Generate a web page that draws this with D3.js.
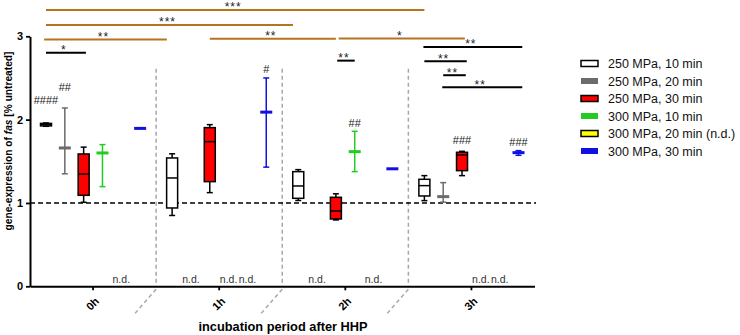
<!DOCTYPE html>
<html>
<head>
<meta charset="utf-8">
<script src="https://d3js.org/d3.v7.min.js"></script>
<style>
    body { margin: 0; background: #fff; }
    text { font-family: "Liberation Sans", Arial, sans-serif; }
</style>
</head>
<body>
<script>
    // groups on the x axis and the six treatments
    const groups = ["0h", "1h", "2h", "3h"];
    const seriesNames = ["250 MPa, 10 min", "250 MPa, 20 min", "250 MPa, 30 min",
        "300 MPa, 10 min", "300 MPa, 20 min (n.d.)", "300 MPa, 30 min"];
    const seriesColors = ["#ffffff", "#6b6b6b", "#ff0000", "#22cc22", "#ffff00", "#1010e0"];
    const seriesBorder = [true, false, true, false, true, false];
    const yTicks = [0, 1, 2, 3];

    // box series: [min, q1, median, q3, max], null = n.d.
    const s250_10 = [[1.92, 1.925, 1.94, 1.955, 1.96], [0.85, 0.94, 1.30, 1.54, 1.59],
        [1.03, 1.056, 1.204, 1.376, 1.40], [1.028, 1.084, 1.208, 1.284, 1.328]];
    const s250_30 = [[1.008, 1.092, 1.348, 1.588, 1.67], [1.124, 1.256, 1.736, 1.904, 1.94],
        [0.796, 0.808, 0.904, 1.068, 1.11], [1.328, 1.388, 1.576, 1.608, 1.62]];
    // median with range series: [min, median, max]
    const s250_20 = [[1.35, 1.66, 2.14], null, null, [1.01, 1.076, 1.244]];
    const s300_10 = [[1.196, 1.60, 1.70], null, [1.376, 1.616, 1.86], null];
    const s300_20 = [null, null, null, null];
    const s300_30 = [[1.895, 1.895, 1.895], [1.43, 2.09, 2.50], [1.41, 1.41, 1.41], [1.572, 1.604, 1.628]];
    const seriesData = [s250_10, s250_20, s250_30, s300_10, s300_20, s300_30];
    const seriesKind = ["box", "range", "box", "range", "range", "range"];

    // significance brackets: [group1, slot1, group2, slot2, y level, label]
    const orangeBrackets = [
        [0, 0, 3, 0, 3.317, "***"],
        [0, 0, 2, -0.28, 3.137, "***"],
        [0, -0.1, 1, -0.28, 2.963, "**"],
        [1, 2, 2, 2, 2.972, "**"],
        [2, 2.15, 3, 2.15, 2.975, "*"]
    ];
    const blackBrackets = [
        [0, 0, 0, 2.12, 2.804, "*"],
        [2, 2.07, 2, 3, 2.708, "**"],
        [3, -0.05, 3, 5.2, 2.873, "**"],
        [3, 0, 3, 2.25, 2.70, "**"],
        [3, 1, 3, 2.2, 2.533, "**"],
        [3, 0.95, 3, 5.2, 2.389, "**"]
    ];
    // hash labels: [group, slot, y level, text]
    const hashLabels = [
        [0, 0, 2.19, "####"],
        [0, 1, 2.345, "##"],
        [1, 5, 2.56, "#"],
        [2, 3, 1.906, "##"],
        [3, 2, 1.708, "###"],
        [3, 5, 1.684, "###"]
    ];

    const W = 740, H = 335;
    const svg = d3.select("body").append("svg").attr("width", W).attr("height", H);

    const x = d3.scaleBand().domain(groups).range([30, 534.5]).padding(0);
    const xs = d3.scalePoint().domain(d3.range(6)).range([0, x.bandwidth()]).padding(0.85);
    const y = d3.scaleLinear().domain([0, 3]).range([286.3, 36.3]);

    const slotX = (g, k) => x(groups[g]) + xs(0) + k * xs.step();

    // group separators and axis break marks
    groups.slice(1).forEach(g => {
        const sx = x(g);
        svg.append("line").attr("x1", sx).attr("x2", sx)
            .attr("y1", y(2.61)).attr("y2", y(0))
            .attr("stroke", "#a8a8a8").attr("stroke-width", 1.5).attr("stroke-dasharray", "4,3");
        svg.append("line").attr("x1", sx).attr("x2", sx - 21)
            .attr("y1", y(0) + 3).attr("y2", y(0) + 27)
            .attr("stroke", "#a8a8a8").attr("stroke-width", 1.5).attr("stroke-dasharray", "4,3");
    });

    // reference line at 1
    svg.append("line").attr("x1", 30).attr("x2", 536)
        .attr("y1", y(1)).attr("y2", y(1))
        .attr("stroke", "#000").attr("stroke-width", 1.6).attr("stroke-dasharray", "5,3");

    // axes
    const yAxis = svg.append("g").attr("transform", "translate(30,0)")
        .call(d3.axisLeft(y).tickValues(yTicks).tickFormat(d3.format("d")).tickSize(4).tickSizeOuter(0));
    yAxis.selectAll("text").attr("font-size", 11).attr("font-weight", "bold").attr("fill", "#000")
        .attr("font-family", "Liberation Sans, Arial, sans-serif");
    const xAxis = svg.append("g").attr("transform", "translate(0," + y(0) + ")")
        .call(d3.axisBottom(x).tickSize(4).tickSizeOuter(0));
    xAxis.selectAll("text").attr("font-size", 11).attr("font-weight", "bold").attr("fill", "#000")
        .attr("font-family", "Liberation Sans, Arial, sans-serif")
        .attr("x", 0).attr("y", 0).attr("dy", "0.35em")
        .attr("text-anchor", "end")
        .attr("transform", "translate(4,13) rotate(-45)");
    [yAxis, xAxis].forEach(a => {
        a.select(".domain").attr("stroke-width", 2);
        a.selectAll(".tick line").attr("stroke-width", 1.8);
    });

    // boxes and ranges
    seriesData.forEach((arr, k) => {
        arr.forEach((v, g) => {
            const cx = slotX(g, k);
            if (v === null) {
                svg.append("text").attr("x", cx).attr("y", y(0) - 3)
                    .attr("text-anchor", "middle").attr("font-size", 10.5).attr("fill", "#333")
                    .text("n.d.");
                return;
            }
            const col = seriesColors[k];
            if (seriesKind[k] === "box") {
                const [mn, q1, md, q3, mx] = v;
                const g0 = svg.append("g").attr("stroke", "#000").attr("stroke-width", 1.5);
                g0.append("line").attr("x1", cx).attr("x2", cx).attr("y1", y(mx)).attr("y2", y(mn));
                g0.append("line").attr("x1", cx - 3).attr("x2", cx + 3).attr("y1", y(mx)).attr("y2", y(mx));
                g0.append("line").attr("x1", cx - 3).attr("x2", cx + 3).attr("y1", y(mn)).attr("y2", y(mn));
                g0.append("rect").attr("x", cx - 5.5).attr("width", 11)
                    .attr("y", y(q3)).attr("height", Math.max(0.5, y(q1) - y(q3)))
                    .attr("fill", col);
                g0.append("line").attr("x1", cx - 5.5).attr("x2", cx + 5.5).attr("y1", y(md)).attr("y2", y(md));
            } else {
                const [mn, md, mx] = v;
                const g0 = svg.append("g").attr("stroke", col);
                if (mx > mn) {
                    g0.append("line").attr("x1", cx).attr("x2", cx).attr("y1", y(mx)).attr("y2", y(mn)).attr("stroke-width", 1.5);
                    g0.append("line").attr("x1", cx - 3).attr("x2", cx + 3).attr("y1", y(mx)).attr("y2", y(mx)).attr("stroke-width", 1.5);
                    g0.append("line").attr("x1", cx - 3).attr("x2", cx + 3).attr("y1", y(mn)).attr("y2", y(mn)).attr("stroke-width", 1.5);
                }
                g0.append("line").attr("x1", cx - 6).attr("x2", cx + 6).attr("y1", y(md)).attr("y2", y(md)).attr("stroke-width", 3);
            }
        });
    });

    // brackets
    function drawBrackets(list, color) {
        list.forEach(([g1, k1, g2, k2, lv, lab]) => {
            const x1 = slotX(g1, k1), x2 = slotX(g2, k2);
            svg.append("line").attr("x1", x1).attr("x2", x2).attr("y1", y(lv)).attr("y2", y(lv))
                .attr("stroke", color).attr("stroke-width", 2);
            svg.append("text").attr("x", (x1 + x2) / 2 - 2).attr("y", y(lv) + 1.5)
                .attr("text-anchor", "middle").attr("font-size", 12).attr("letter-spacing", 1)
                .attr("fill", "#222").text(lab);
        });
    }
    drawBrackets(orangeBrackets, "#b8731e");
    drawBrackets(blackBrackets, "#000");

    hashLabels.forEach(([g, k, lv, t]) => {
        svg.append("text").attr("x", slotX(g, k)).attr("y", y(lv))
            .attr("text-anchor", "middle").attr("font-size", 11).attr("fill", "#222").text(t);
    });

    // axis titles
    const yt = svg.append("text").attr("transform", "translate(12,141) rotate(-90)")
        .attr("text-anchor", "middle").attr("font-size", 10.2).attr("font-weight", "bold");
    yt.append("tspan").text("gene-expression of ");
    yt.append("tspan").attr("font-style", "italic").text("fas");
    yt.append("tspan").text(" [% untreated]");
    svg.append("text").attr("x", (30 + 536) / 2).attr("y", 331)
        .attr("text-anchor", "middle").attr("font-size", 12.8).attr("font-weight", "bold")
        .text("incubation period after HHP");

    // legend
    const lg = svg.append("g").attr("transform", "translate(581,63.5)");
    seriesNames.forEach((n, i) => {
        const row = lg.append("g").attr("transform", "translate(0," + i * 17.5 + ")");
        row.append("rect").attr("x", 0).attr("y", -3).attr("width", 17).attr("height", 6)
            .attr("fill", seriesColors[i])
            .attr("stroke", seriesBorder[i] ? "#000" : "none").attr("stroke-width", 1.5);
        row.append("text").attr("x", 27).attr("y", 4.5).attr("font-size", 12.5).attr("fill", "#111").text(n);
    });
</script>
</body>
</html>
